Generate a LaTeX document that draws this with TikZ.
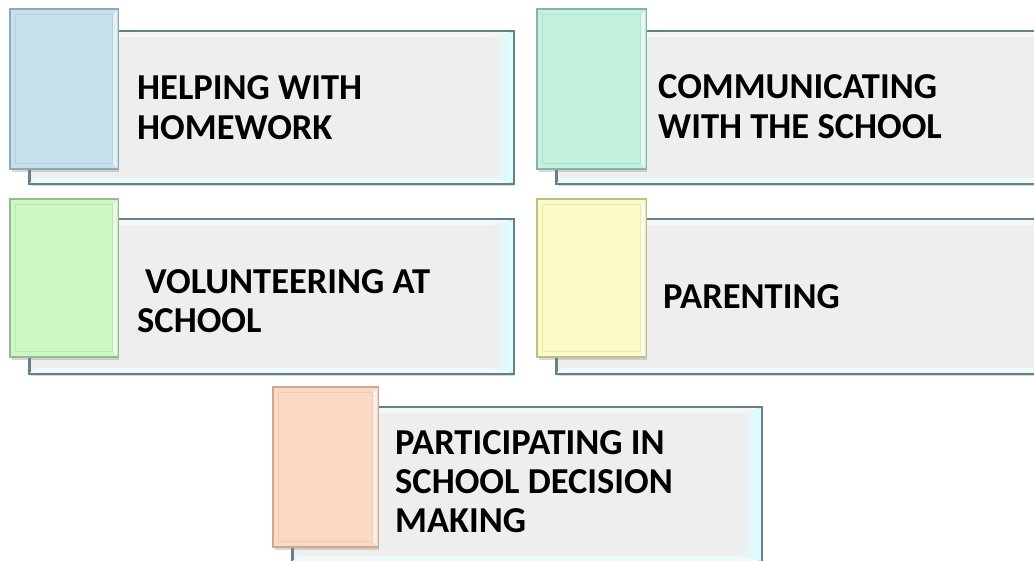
\documentclass[tikz,border=0pt]{standalone}
\usepackage{fontspec}
\setmainfont{Carlito}
\usetikzlibrary{shadows,calc}
\definecolor{face}{HTML}{EEEEEE}
\definecolor{edge}{HTML}{62808D}
\definecolor{cBlue}{HTML}{C6E1EC}\definecolor{eBlue}{HTML}{8DA9B4}
\definecolor{cMint}{HTML}{C2F1DD}\definecolor{eMint}{HTML}{88B6A3}
\definecolor{cGreen}{HTML}{CDF7C5}\definecolor{eGreen}{HTML}{92BE89}
\definecolor{cYellow}{HTML}{FAFBC7}\definecolor{eYellow}{HTML}{BDBE88}
\definecolor{cPeach}{HTML}{FCD9C5}\definecolor{ePeach}{HTML}{CFA892}
\tikzset{
  bigbox/.style={draw=edge, line width=1.8pt, fill=face, inner sep=0pt, anchor=north west,
    drop shadow={opacity=0.3, shadow xshift=1.5pt, shadow yshift=-3pt}},
  sqbox/.style={line width=1.4pt, inner sep=0pt, anchor=north west,
    drop shadow={opacity=0.3, shadow xshift=1.5pt, shadow yshift=-3pt}},
  cardlabel/.style={font=\fontsize{36.5}{40}\selectfont\bfseries, align=left, anchor=north west, inner sep=0pt, text=black},
}
% #1 name, #2 #3 big xy, #4 #5 big wh
\newcommand\makecard[5]{%
  \node[bigbox, minimum width=#4pt, minimum height=#5pt] (#1big) at (#2,#3) {};
  \fill[white!55!face] ($(#1big.north west)+(0.9,0.9)$) -- ($(#1big.north east)+(-0.9,0.9)$)
     -- ($(#1big.north east)+(-22,6)$) -- ($(#1big.north west)+(6,6)$) -- cycle;
  \fill[face!85!cyan!30!white] ($(#1big.south west)+(0.9,-0.9)$) -- ($(#1big.south east)+(-0.9,-0.9)$)
     -- ($(#1big.south east)+(-22,-6)$) -- ($(#1big.south west)+(6,-6)$) -- cycle;
  \shade[left color=face, right color=white!85!cyan] ($(#1big.north east)+(-0.9,0.9)$) -- ($(#1big.south east)+(-0.9,-0.9)$)
     -- ($(#1big.south east)+(-22,-6)$) -- ($(#1big.north east)+(-22,6)$) -- cycle;
  \draw[edge, line width=1.8pt] (#1big.north west) rectangle (#1big.south east);
}
% #1 name, #2 x, #3 y, #4 w, #5 h, #6 fill, #7 edge
\newcommand\makesquare[7]{%
  \node[sqbox, fill=#6, draw=#7, minimum width=#4pt, minimum height=#5pt] (#1sq) at (#2,#3) {};
  \fill[white!55!#6] ($(#1sq.north east)+(-0.7,0.7)$) -- ($(#1sq.south east)+(-0.7,-0.7)$)
     -- ($(#1sq.south east)+(-6,-6)$) -- ($(#1sq.north east)+(-6,6)$) -- cycle;
  \draw[#7!30!#6, line width=0.8pt] ($(#1sq.north west)+(5,5)$) rectangle ($(#1sq.south east)+(-6,-6)$);
  \draw[#7, line width=1.4pt] (#1sq.north west) rectangle (#1sq.south east);
}
\begin{document}
\begin{tikzpicture}[x=1pt,y=-1pt]
\useasboundingbox[fill=white] (0,0) rectangle (1034,561);
% card 1
\makecard{a}{29}{31}{483}{151}
\makesquare{a}{10}{9}{107}{159}{cBlue}{eBlue}
\node[cardlabel] (ta) at (137,75) {HELPING WITH\\HOMEWORK};
% card 2
\makecard{b}{556}{31}{520}{151}
\makesquare{b}{537}{9}{108}{159}{cMint}{eMint}
\node[cardlabel] (tb) at (658,74) {COMMUNICATING\\WITH THE SCHOOL};
% card 3
\makecard{c}{29}{219}{483}{153}
\makesquare{c}{10}{199}{107}{157}{cGreen}{eGreen}
\node[cardlabel] (tc) at (137,269) {\hspace*{8pt}VOLUNTEERING AT\\[-1pt]SCHOOL};
% card 4
\makecard{d}{556}{219}{520}{153}
\makesquare{d}{537}{199}{108}{157}{cYellow}{eYellow}
\node[cardlabel] (td) at (663,284) {PARENTING};
% card 5
\makecard{e}{292}{407}{468}{153}
\makesquare{e}{273}{387}{104}{159}{cPeach}{ePeach}
\node[cardlabel] (te) at (395,430) {PARTICIPATING IN\\[-1pt]SCHOOL DECISION\\[-1pt]MAKING};
\end{tikzpicture}
\end{document}
